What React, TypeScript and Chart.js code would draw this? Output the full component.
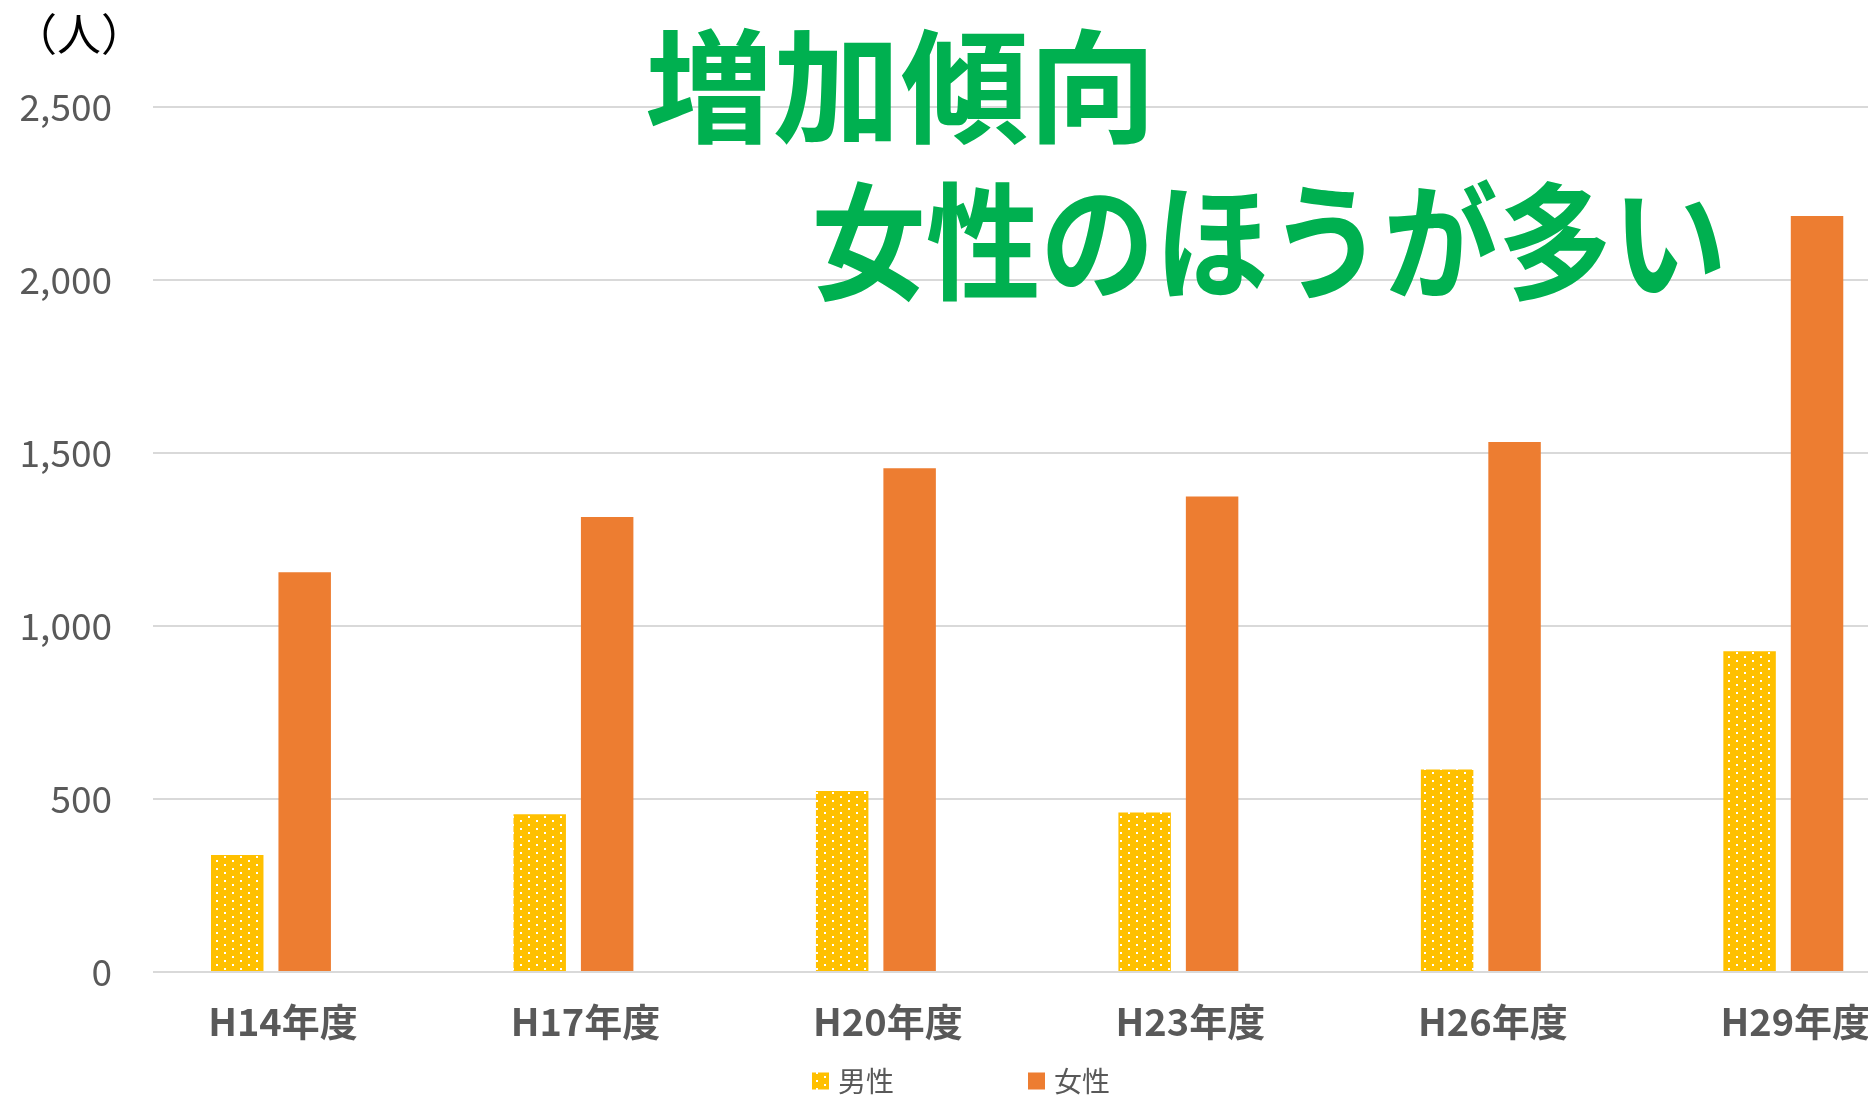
import React, { useEffect, useRef } from 'react';
import { Chart, registerables } from 'chart.js';

Chart.register(...registerables);

// ---- data ----
const categories = ['H14年度', 'H17年度', 'H20年度', 'H23年度', 'H26年度', 'H29年度'];
const maleValues = [338, 456, 523, 461, 585, 927];
const femaleValues = [1155, 1315, 1456, 1374, 1532, 2185];
const seriesNames = ['男性', '女性'];
const yMin = 0;
const yMax = 2500;
const yStep = 500;
const unitLabel = '（人）';
const titleLines = ['増加傾向', '女性のほうが多い'];

const FONT = '"Noto Sans CJK JP", "Noto Sans", sans-serif';
const W = 1868;
const H = 1095;
const MALE_COLOR = '#FFC000';
const FEMALE_COLOR = '#ED7D31';
const TEXT_GRAY = '#595959';

function makeDotPattern(ctx: CanvasRenderingContext2D): CanvasPattern | string {
  const c = document.createElement('canvas');
  c.width = 16;
  c.height = 8;
  const g = c.getContext('2d');
  if (!g) return MALE_COLOR;
  g.fillStyle = MALE_COLOR;
  g.fillRect(0, 0, 16, 8);
  g.fillStyle = '#FFFFFF';
  g.fillRect(0, 0, 2, 2);
  g.fillRect(8, 4, 2, 2);
  return ctx.createPattern(c, 'repeat') || MALE_COLOR;
}

// draw text so that its ink box fits the given box
function drawFitted(ctx: CanvasRenderingContext2D, text: string, x: number, y: number, w: number, h: number, color: string) {
  ctx.save();
  ctx.font = `bold 100px ${FONT}`;
  let m = ctx.measureText(text);
  const h100 = m.actualBoundingBoxAscent + m.actualBoundingBoxDescent;
  const size = (100 * h) / h100;
  ctx.font = `bold ${size}px ${FONT}`;
  m = ctx.measureText(text);
  const inkW = m.actualBoundingBoxLeft + m.actualBoundingBoxRight;
  const sx = w / inkW;
  ctx.translate(x, y);
  ctx.scale(sx, 1);
  ctx.textAlign = 'left';
  ctx.textBaseline = 'alphabetic';
  ctx.fillStyle = color;
  ctx.fillText(text, m.actualBoundingBoxLeft, m.actualBoundingBoxAscent);
  ctx.restore();
}

function drawInkAt(ctx: CanvasRenderingContext2D, text: string, font: string, x: number, y: number, color: string) {
  ctx.save();
  ctx.font = font;
  const m = ctx.measureText(text);
  ctx.textAlign = 'left';
  ctx.textBaseline = 'alphabetic';
  ctx.fillStyle = color;
  ctx.fillText(text, x + m.actualBoundingBoxLeft, y + m.actualBoundingBoxAscent);
  ctx.restore();
}

const overlayPlugin = {
  id: 'overlay',
  afterDraw(chart: any) {
    const ctx: CanvasRenderingContext2D = chart.ctx;
    // unit label
    drawInkAt(ctx, unitLabel, `44px ${FONT}`, 43, 13, '#000000');
    // big green annotation
    drawFitted(ctx, titleLines[0], 647, 27, 499, 118, '#00B050');
    drawFitted(ctx, titleLines[1], 816, 179, 905, 125, '#00B050');
    // legend
    const legendY = 1081;
    const boxes = [812, 1028];
    ctx.save();
    ctx.font = `28px ${FONT}`;
    ctx.textBaseline = 'middle';
    ctx.textAlign = 'left';
    chart.data.datasets.forEach((ds: any, i: number) => {
      const bx = boxes[i];
      ctx.fillStyle = ds.backgroundColor;
      ctx.fillRect(bx, legendY - 8.5, 17, 17);
      ctx.fillStyle = TEXT_GRAY;
      ctx.fillText(seriesNames[i], bx + 26, legendY);
    });
    ctx.restore();
  },
};

export default function App() {
  const canvasRef = useRef<HTMLCanvasElement | null>(null);

  useEffect(() => {
    const canvas = canvasRef.current;
    if (!canvas) return;
    const ctx = canvas.getContext('2d');
    if (!ctx) return;
    const pattern = makeDotPattern(ctx);

    const chart = new Chart(ctx, {
      type: 'bar',
      data: {
        datasets: [
          {
            label: seriesNames[0],
            data: categories.map((_, i) => ({ x: i, y: maleValues[i] })),
            backgroundColor: pattern as any,
            borderWidth: 0,
            categoryPercentage: 0.446,
            barPercentage: 0.778,
          },
          {
            label: seriesNames[1],
            data: categories.map((_, i) => ({ x: i, y: femaleValues[i] })),
            backgroundColor: FEMALE_COLOR,
            borderWidth: 0,
            categoryPercentage: 0.446,
            barPercentage: 0.778,
          },
        ],
      },
      options: {
        animation: false,
        responsive: false,
        maintainAspectRatio: false,
        layout: { padding: { top: 107, left: 0, right: 0, bottom: 0 } },
        scales: {
          x: {
            type: 'linear',
            offset: false,
            min: -0.39,
            max: 5.28,
            grid: { display: false, drawTicks: false, offset: false },
            border: { display: false },
            afterBuildTicks: (axis: any) => {
              axis.ticks = categories.map((_, i) => ({ value: i }));
            },
            afterFit: (s: any) => {
              s.height = 123;
              s.paddingLeft = 0;
              s.paddingRight = 0;
            },
            ticks: {
              autoSkip: false,
              maxRotation: 0,
              minRotation: 0,
              labelOffset: 12,
              padding: 27,
              color: TEXT_GRAY,
              font: { family: FONT, size: 38, weight: 'bold' },
              callback: (v: any) => categories[v] ?? '',
            },
          },
          y: {
            min: yMin,
            max: yMax,
            grid: { color: '#D9D9D9', lineWidth: 2, drawTicks: false },
            border: { display: false },
            afterFit: (s: any) => {
              s.width = 153;
            },
            ticks: {
              stepSize: yStep,
              padding: 41,
              color: TEXT_GRAY,
              font: { family: FONT, size: 37 },
              callback: (v: any) => Number(v).toLocaleString('en-US'),
            },
          },
        },
        plugins: {
          legend: { display: false },
          tooltip: { enabled: false },
          title: { display: false },
        },
      } as any,
      plugins: [overlayPlugin],
    });

    return () => {
      chart.destroy();
    };
  }, []);

  return (
    <div style={{ position: 'fixed', left: 0, top: 0, width: W, height: H, overflow: 'hidden', background: '#ffffff' }}>
      <canvas ref={canvasRef} width={W} height={H} style={{ width: W, height: H, display: 'block' }} />
    </div>
  );
}
